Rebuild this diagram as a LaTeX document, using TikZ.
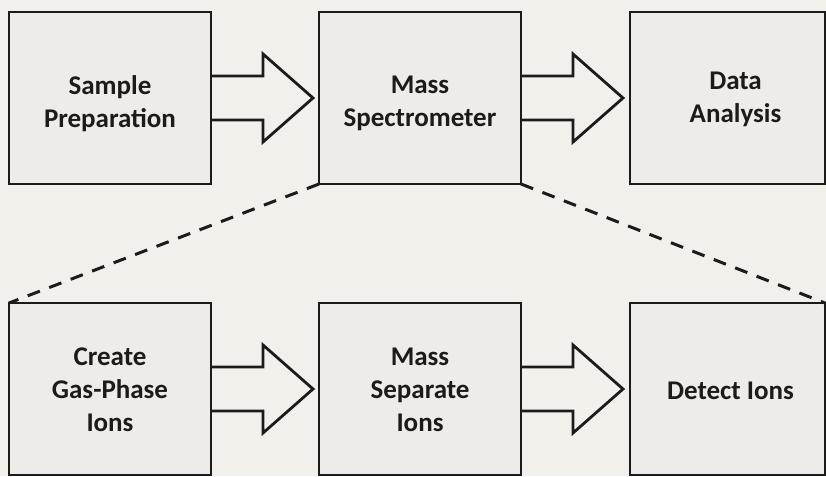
\documentclass[tikz,border=0pt]{standalone}
\usepackage{fontspec}
\setmainfont{Carlito}
\usetikzlibrary{calc}
\definecolor{ink}{HTML}{1E1A1A}
\definecolor{bg}{HTML}{F3F0EC}
\definecolor{boxfill}{HTML}{EEECE9}
\newcommand\fatarrow[1]{%
  \draw[fat] ($(#1.east)+(0,-22)$) -- ++(52,0) -- ++(0,-22) -- ++(50,44) -- ++(-50,44) -- ++(0,-22) -- ++(-52,0);}
\begin{document}
\begin{tikzpicture}[x=1pt,y=-1pt,
  box/.style={draw=ink, line width=2.8pt, fill=boxfill, minimum width=202pt, minimum height=172pt,
    inner sep=0pt, outer sep=0pt, anchor=north west},
  lastbox/.style={box, minimum width=195pt},
  lbl/.style={align=center, inner sep=0pt, font=\bfseries\fontsize{27}{33}\selectfont, text=ink},
  fat/.style={draw=ink, line width=2.8pt, line join=miter},
  link/.style={draw=ink, line width=3pt, dash pattern=on 13pt off 10pt}]
\fill[bg] (0,0) rectangle (826,476);
\useasboundingbox (0,0) rectangle (826,476);
\clip (0,0) rectangle (826,476);
% top row
\node[box] (b1) at (9,12) {};
\node[box] (b2) at (319,12) {};
\node[lastbox] (b3) at (630,12) {};
\node[lbl] (t1) at ($(b1.center)+(0,6)$) {Sample\\Preparation};
\node[lbl] (t2) at ($(b2.center)+(0,5)$) {Mass\\Spectrometer};
\node[lbl] (t3) at ($(b3.center)+(8,1)$) {Data\\Analysis};
% bottom row
\node[box] (b4) at (9,303) {};
\node[box] (b5) at (319,303) {};
\node[lastbox] (b6) at (630,303) {};
\node[lbl] (t4) at ($(b4.center)+(0,1)$) {Create\\Gas-Phase\\Ions};
\node[lbl] (t5) at ($(b5.center)+(0,1)$) {Mass\\Separate\\Ions};
\node[lbl] (t6) at ($(b6.center)+(3,2)$) {Detect Ions};
% block arrows
\fatarrow{b1}
\fatarrow{b2}
\fatarrow{b4}
\fatarrow{b5}
% zoom lines
\draw[link] (b2.south west) -- (b4.north west);
\draw[link] (b2.south east) -- (b6.north east);
\end{tikzpicture}
\end{document}
